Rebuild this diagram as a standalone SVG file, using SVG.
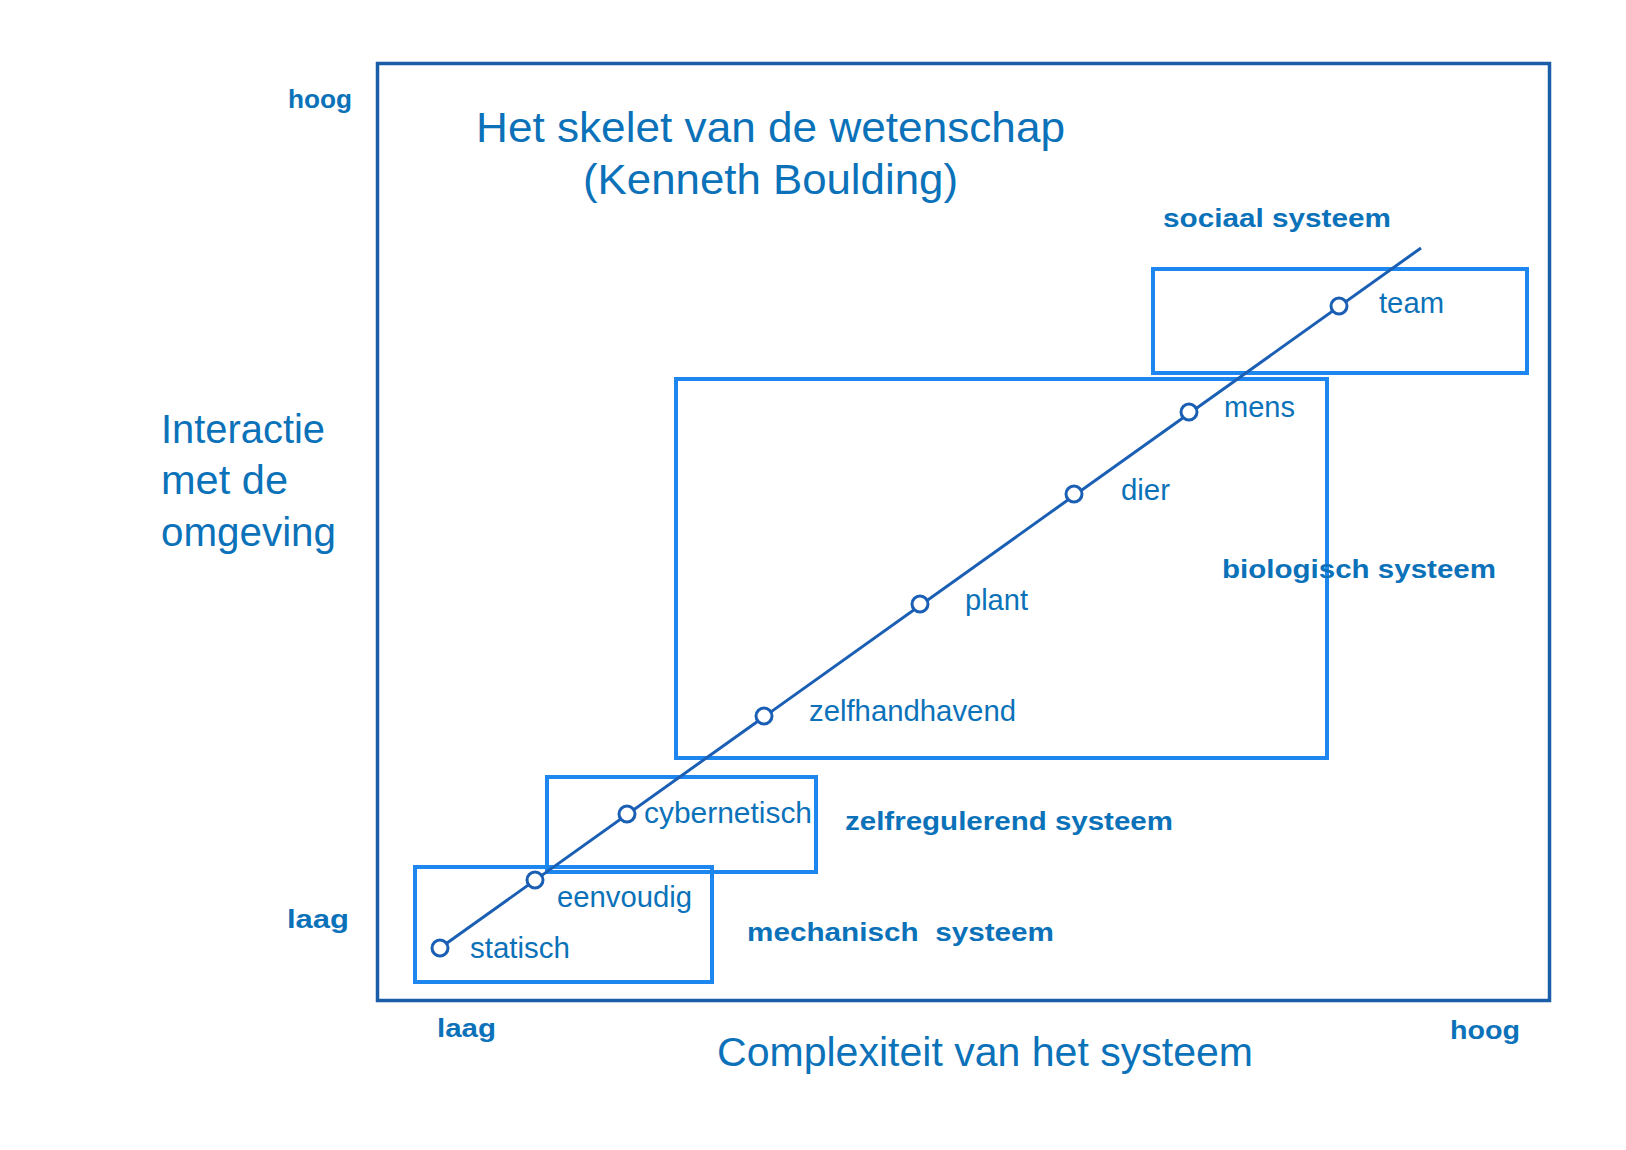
<svg xmlns="http://www.w3.org/2000/svg" width="1626" height="1150" viewBox="0 0 1626 1150">
<style>
text{font-family:"Liberation Sans",Arial,sans-serif;fill:#0b72b9}
.b{font-weight:bold;font-size:26px}
.l{font-size:29px}
.big{font-size:41px}
.frame{fill:none;stroke:#1a5ea9;stroke-width:3.5}
.box{fill:none;stroke:#1d87ef;stroke-width:4}
.dot{fill:#fff;stroke:#1a5fb4;stroke-width:3}
.conn{stroke:#1a5fb4;stroke-width:3;fill:none}
</style>
<rect width="1626" height="1150" fill="#fff"/>
<g id="frame"><rect class="frame" x="377.5" y="63.5" width="1172" height="937"/></g>
<g id="title">
<text x="476" y="142" font-size="42" textLength="589" lengthAdjust="spacingAndGlyphs">Het skelet van de wetenschap</text>
<text x="583" y="194" font-size="42" textLength="375" lengthAdjust="spacingAndGlyphs">(Kenneth Boulding)</text>
</g>
<g id="axis-y">
<text class="b" x="288" y="108" textLength="64" lengthAdjust="spacingAndGlyphs">hoog</text>
<text class="b" x="287" y="928" textLength="62" lengthAdjust="spacingAndGlyphs">laag</text>
<text class="big" x="161" y="443" textLength="164" lengthAdjust="spacingAndGlyphs">Interactie</text>
<text class="big" x="161" y="494" textLength="127" lengthAdjust="spacingAndGlyphs">met de</text>
<text class="big" x="161" y="546" textLength="175" lengthAdjust="spacingAndGlyphs">omgeving</text>
</g>
<g id="axis-x">
<text class="b" x="437" y="1037" textLength="59" lengthAdjust="spacingAndGlyphs">laag</text>
<text class="b" x="1450" y="1039" textLength="70" lengthAdjust="spacingAndGlyphs">hoog</text>
<text class="big" x="717" y="1066" textLength="536" lengthAdjust="spacingAndGlyphs">Complexiteit van het systeem</text>
</g>
<g id="sociaal">
<rect class="box" x="1153" y="269" width="374" height="104"/>
<text class="b" x="1163" y="227" textLength="228" lengthAdjust="spacingAndGlyphs">sociaal systeem</text>
</g>
<g id="biologisch">
<rect class="box" x="676" y="379" width="651" height="379"/>
<text class="b" x="1222" y="578" textLength="274" lengthAdjust="spacingAndGlyphs">biologisch systeem</text>
</g>
<g id="zelfregulerend">
<rect class="box" x="547" y="777" width="269" height="95"/>
<text class="b" x="845" y="830" textLength="328" lengthAdjust="spacingAndGlyphs">zelfregulerend systeem</text>
</g>
<g id="mechanisch">
<rect class="box" x="415" y="867" width="297" height="115"/>
<text class="b" x="747" y="941" textLength="307" lengthAdjust="spacingAndGlyphs" xml:space="preserve">mechanisch  systeem</text>
</g>
<g id="connectors"><line class="conn" x1="440" y1="948" x2="1421" y2="248"/></g>
<g id="statisch"><circle class="dot" cx="440" cy="948" r="8"/><text class="l" x="470" y="958" textLength="100" lengthAdjust="spacingAndGlyphs">statisch</text></g>
<g id="eenvoudig"><circle class="dot" cx="535" cy="880" r="8"/><text class="l" x="557" y="907" textLength="135" lengthAdjust="spacingAndGlyphs">eenvoudig</text></g>
<g id="cybernetisch"><circle class="dot" cx="627" cy="814" r="8"/><text class="l" x="644" y="823" textLength="168" lengthAdjust="spacingAndGlyphs">cybernetisch</text></g>
<g id="zelfhandhavend"><circle class="dot" cx="764" cy="716" r="8"/><text class="l" x="809" y="721" textLength="207" lengthAdjust="spacingAndGlyphs">zelfhandhavend</text></g>
<g id="plant"><circle class="dot" cx="920" cy="604" r="8"/><text class="l" x="965" y="610" textLength="63" lengthAdjust="spacingAndGlyphs">plant</text></g>
<g id="dier"><circle class="dot" cx="1074" cy="494" r="8"/><text class="l" x="1121" y="500" textLength="49" lengthAdjust="spacingAndGlyphs">dier</text></g>
<g id="mens"><circle class="dot" cx="1189" cy="412" r="8"/><text class="l" x="1224" y="417" textLength="71" lengthAdjust="spacingAndGlyphs">mens</text></g>
<g id="team"><circle class="dot" cx="1339" cy="306" r="8"/><text class="l" x="1379" y="313" textLength="65" lengthAdjust="spacingAndGlyphs">team</text></g>
</svg>
